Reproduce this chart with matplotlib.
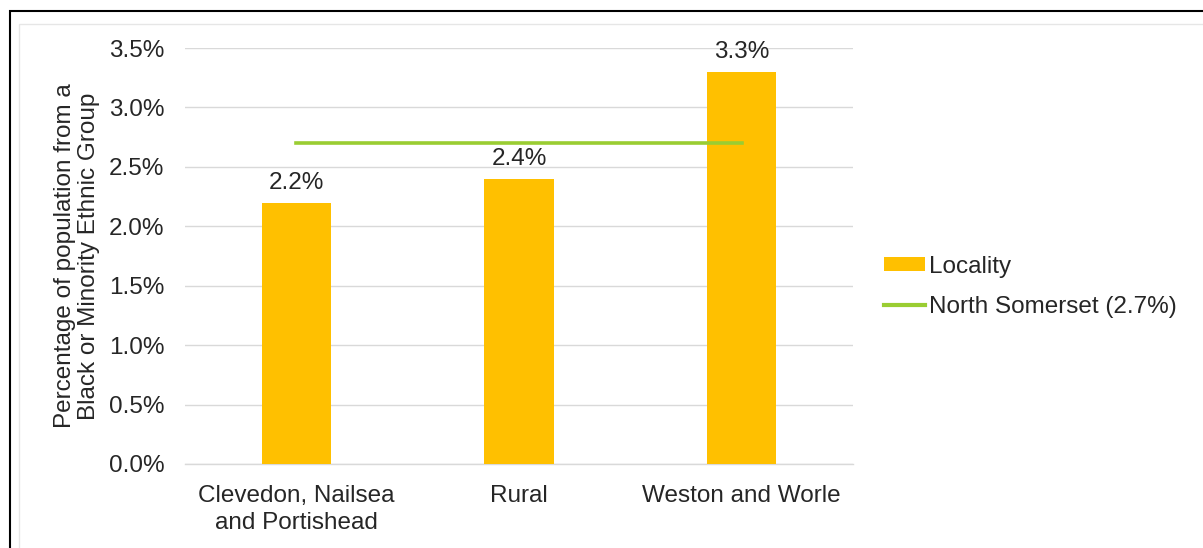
import matplotlib.pyplot as plt
from matplotlib.patches import Rectangle, Patch
from matplotlib.lines import Line2D
from matplotlib.ticker import FuncFormatter

plt.rcParams['font.family'] = ['Liberation Sans', 'DejaVu Sans']

categories = ['Clevedon, Nailsea\nand Portishead', 'Rural', 'Weston and Worle']
locality = [2.2, 2.4, 3.3]
north_somerset = 2.7

fs = 17.5
txt = '#262626'

fig = plt.figure(figsize=(12.03, 5.48), dpi=100)

# rahmen (ausschnitt eines umrandeten diagramms)
fig.patches.append(Rectangle((10 / 1203, -0.1), 1.2, 1 - 11 / 548 + 0.1,
                             transform=fig.transFigure, fill=False,
                             edgecolor='black', linewidth=1.5))
fig.patches.append(Rectangle((19 / 1203, -0.1), 1.2, 1 - 24 / 548 + 0.1,
                             transform=fig.transFigure, fill=False,
                             edgecolor='#e6e6e6', linewidth=1.0))

ax = fig.add_axes([185 / 1203, 1 - 464 / 548, 668 / 1203, 416 / 548])

x = range(len(categories))
ax.bar(x, locality, width=0.31, color='#FFC000', zorder=3)
ax.plot([0, 2], [north_somerset, north_somerset], color='#9ACD32',
        linewidth=2.6, zorder=4)

for xi, v in zip(x, locality):
    ax.text(xi, v + 0.07, f'{v:.1f}%', ha='center', va='bottom',
            fontsize=fs, color=txt)

ax.set_xlim(-0.5, 2.5)
ax.set_ylim(0, 3.5)
ax.set_yticks([0, 0.5, 1.0, 1.5, 2.0, 2.5, 3.0, 3.5])
ax.yaxis.set_major_formatter(FuncFormatter(lambda v, p: f'{v:.1f}%'))
ax.set_xticks(list(x))
ax.set_xticklabels(categories)
ax.tick_params(axis='both', length=0, labelsize=fs, colors=txt)
ax.tick_params(axis='y', pad=15)
ax.tick_params(axis='x', pad=15)
for lbl in ax.get_xticklabels():
    lbl.set_linespacing(1.3)

ax.grid(axis='y', color='#d9d9d9', linewidth=1, zorder=0)
for s in ['top', 'right', 'left']:
    ax.spines[s].set_visible(False)
ax.spines['bottom'].set_color('#d9d9d9')
ax.spines['bottom'].set_linewidth(1)

ax.set_ylabel('Percentage of population from a\nBlack or Minority Ethnic Group',
              fontsize=fs, color=txt, linespacing=1.15, labelpad=6)

handles = [Patch(facecolor='#FFC000', edgecolor='none', label='Locality'),
           Line2D([0], [0], color='#9ACD32', linewidth=3,
                  label='North Somerset (2.7%)')]
fig.legend(handles=handles, loc='center left',
           bbox_to_anchor=(884 / 1203, 1 - 287 / 548), frameon=False,
           borderpad=0, borderaxespad=0,
           fontsize=fs, handlelength=1.7, handleheight=0.5,
           handletextpad=0.15, labelspacing=0.75, labelcolor=txt)

fig.savefig('out.png', dpi=100)
